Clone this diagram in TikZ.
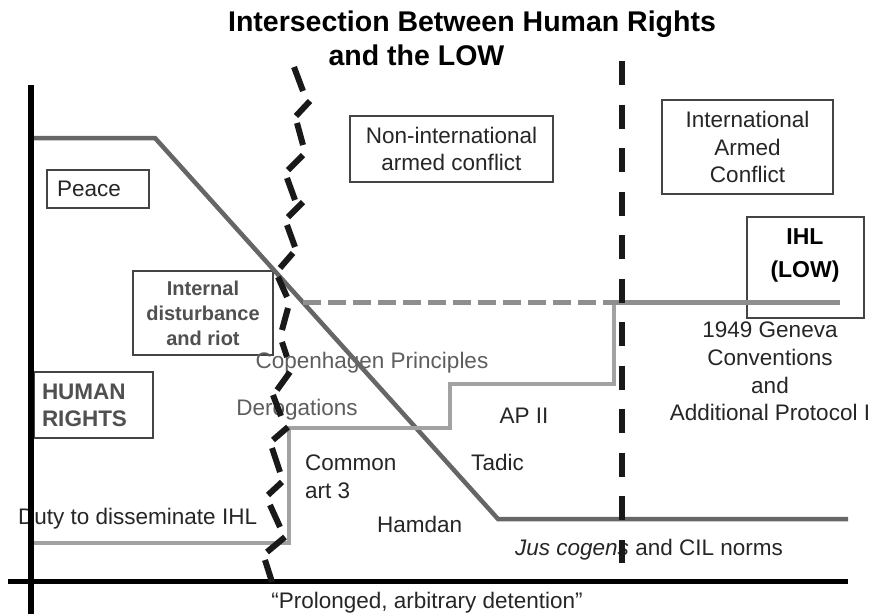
\documentclass[tikz,border=0pt]{standalone}
\usepackage{fontspec}
\setmainfont{Liberation Sans}
\definecolor{txtc}{HTML}{262626}
\definecolor{greytxt}{HTML}{505050}
\definecolor{softtxt}{HTML}{5E5E5E}
\definecolor{framec}{HTML}{444444}
\definecolor{hrc}{HTML}{666666}
\definecolor{ihlc}{HTML}{A2A2A2}
\definecolor{lowc}{HTML}{8E8E8E}
\tikzset{
  lbl/.style={font=\fontsize{22.5}{27.75}\selectfont, text=txtc, inner sep=0pt},
  ttl/.style={font=\bfseries\fontsize{28.5}{35}\selectfont, text=black, inner sep=0pt},
  frame/.style={draw=framec, line width=1.3pt, inner sep=0pt},
  boldlbl/.style={font=\bfseries\fontsize{20}{25}\selectfont, text=greytxt},
  axisline/.style={line width=5.5pt, black},
  hrline/.style={line width=4.5pt, hrc, line join=miter},
  ihlline/.style={line width=4pt, ihlc, line join=miter},
  lowline/.style={line width=5pt, lowc},
  lowdash/.style={lowline, dash pattern=on 18pt off 7pt},
  iacline/.style={line width=6pt, black!90, dash pattern=on 24pt off 19.5pt},
  zig/.style={line width=6pt, black!90},
}
\begin{document}
\begin{tikzpicture}[x=1pt,y=-1pt]
\useasboundingbox (0,0) rectangle (878,614);
\fill[white] (0,0) rectangle (878,614);

% title
\node[ttl, anchor=base] (title1) at (472,31.5) {Intersection Between Human Rights};
\node[ttl, anchor=base] (title2) at (416.5,65) {and the LOW};

% boxes
\node[frame, lbl, minimum width=102pt, minimum height=38pt, text width=82pt, inner xsep=10pt, align=left] (peace) at (98,189) {Peace};
\node[frame, lbl, minimum width=203pt, minimum height=66pt, align=center] (nonint) at (451.5,149) {Non-international\\armed conflict};
\node[frame, lbl, minimum width=171pt, minimum height=94pt, align=center] (intl) at (747.5,147) {International\\Armed\\Conflict};
\node[frame, boldlbl, minimum width=140pt, minimum height=84pt, align=center] (internal) at (203,313) {Internal\\disturbance\\and riot};
\node[frame, lbl, boldlbl, font=\bfseries\fontsize{22.5}{27}\selectfont, minimum width=119pt, minimum height=66pt, text width=103pt, inner xsep=8pt, align=left] (human) at (93.5,405) {HUMAN\\RIGHTS};
\node[frame, minimum width=117pt, minimum height=101pt] (ihlbox) at (805.5,267.5) {};
\node[lbl, font=\bfseries\fontsize{23}{33}\selectfont, text=black, align=center] (ihl) at (805,255) {IHL\\(LOW)};

% labels
\node[lbl, text=softtxt, anchor=base] (copen) at (372,368) {Copenhagen Principles};
\node[lbl, text=softtxt, anchor=base] (derog) at (297,415) {Derogations};
\node[lbl, anchor=west, align=left] (common) at (305,476.5) {Common\\art 3};
\node[lbl, anchor=base] (tadic) at (497.5,470) {Tadic};
\node[lbl, anchor=base] (ap2) at (524,423) {AP II};
\node[lbl, anchor=base west] (hamdan) at (377,532) {Hamdan};
\node[lbl, anchor=base west] (duty) at (18,524) {Duty to disseminate IHL};
\node[lbl, align=center] (geneva) at (770,371.5) {1949 Geneva\\Conventions\\and\\Additional Protocol I};
\node[lbl, anchor=base west] (jus) at (515,555) {\textit{Jus cogens} and CIL norms};
\node[lbl, anchor=base] (prolonged) at (427,608) {``Prolonged, arbitrary detention''};

% human rights line
\coordinate (hr0) at (33,138);
\coordinate (hr1) at (155,138);
\coordinate (hr2) at (498,519);
\coordinate (hr3) at (848,519);
\draw[hrline] (hr0) -- (hr1) -- (hr2) -- (hr3);

% IHL step line
\coordinate (ih0) at (33,543);
\coordinate (ih1) at (289,543);
\coordinate (ih2) at (289,428);
\coordinate (ih3) at (450,428);
\coordinate (ih4) at (450,384);
\coordinate (ih5) at (613.5,384);
\coordinate (ih6) at (613.5,302);
\draw[ihlline] (ih0) -- (ih1) -- (ih2) -- (ih3) -- (ih4) -- (ih5) -- (ih6);

% LOW level
\coordinate (lw0) at (303,302);
\coordinate (lw1) at (840,302);
\draw[lowdash] (lw0) -- (ih6);
\draw[lowline] (ih6) -- (lw1);

% international armed conflict threshold
\coordinate (iac0) at (622,61);
\coordinate (iac1) at (622,563);
\draw[iacline] (iac0) -- (iac1);

% axes
\coordinate (ax0) at (31,85);
\coordinate (ax1) at (31,614);
\coordinate (ay0) at (8,581.5);
\coordinate (ay1) at (848,581.5);
\draw[axisline] (ax0) -- (ax1);
\draw[axisline] (ay0) -- (ay1);

% zigzag threshold of armed conflict
\foreach \xa/\ya/\xb/\yb in {294/67/303/91, 310/101/296/116, 297/123/303/145, 303/155/288/170,
  287/178/295/200, 303/202/288/217, 287/225/295/247, 293/253/280/268, 278/277/287/297,
  288/308/282/330, 282/342/287/357, 290/372/277/390, 273/395/281/416, 288/427/273/440,
  272/448/280/472, 282/482/268/495, 270/505/280/527, 285/537/267/552, 265/560/272/582}
  \draw[zig] (\xa,\ya) -- (\xb,\yb);
\end{tikzpicture}
\end{document}
